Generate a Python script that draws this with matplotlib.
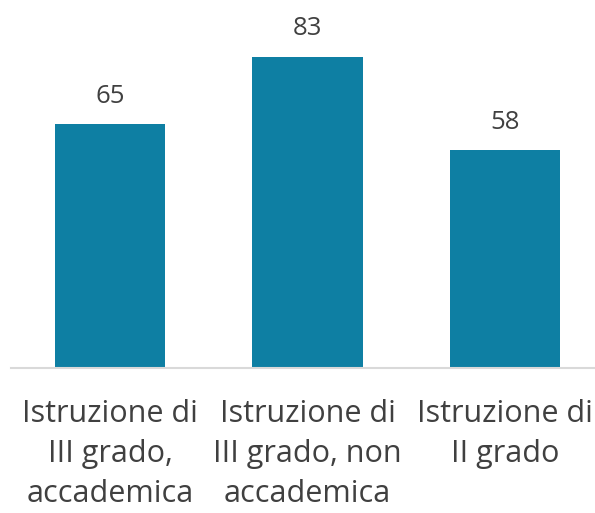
import matplotlib
matplotlib.use('Agg')
import matplotlib.pyplot as plt

categorie = ['Istruzione di\nIII grado,\naccademica',
             'Istruzione di\nIII grado, non\naccademica',
             'Istruzione di\nII grado']
valori = [65, 83, 58]

colore_barre = '#0E7FA3'
colore_testo = '#404040'

plt.rcParams['font.family'] = ['Open Sans', 'DejaVu Sans']

fig = plt.figure(figsize=(5.95, 5.13), dpi=100)
ax = fig.add_axes([11.25 / 595, 145 / 513, 592.5 / 595, 337.5 / 513])

x = list(range(len(categorie)))
barre = ax.bar(x, valori, width=0.557, color=colore_barre)

ax.set_xlim(-0.5, 2.5)
ax.set_ylim(0, 90)

# etichette dei valori sopra le barre
for xi, v in zip(x, valori):
    ax.annotate(str(v), (xi, v), xytext=(0, 15.5), textcoords='offset points',
                ha='center', va='baseline', fontsize=18.5, color=colore_testo)

# etichette delle categorie sotto l'asse
for xi, lab in zip(x, categorie):
    ax.annotate(lab, (xi, 0), xytext=(0, -22.5), textcoords='offset points',
                ha='center', va='top', fontsize=22, color=colore_testo,
                linespacing=1.42)

for s in ['top', 'right', 'left']:
    ax.spines[s].set_visible(False)
ax.spines['bottom'].set_color('#D9D9D9')
ax.spines['bottom'].set_linewidth(1.5)
ax.set_xticks([])
ax.set_yticks([])

fig.savefig('out.png', dpi=100)
